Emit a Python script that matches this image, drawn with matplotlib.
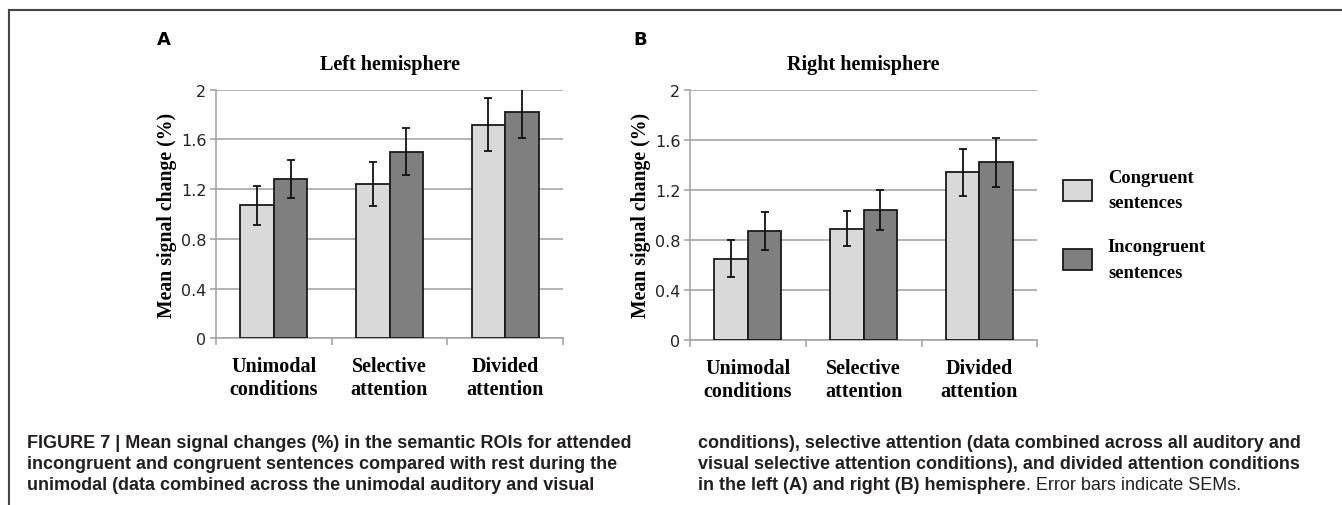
import numpy as np
import matplotlib
matplotlib.use("Agg")
import matplotlib.pyplot as plt
from matplotlib.lines import Line2D

# values
categories = ["Unimodal\nconditions", "Selective\nattention", "Divided\nattention"]
series = ["Congruent\nsentences", "Incongruent\nsentences"]

left_congruent = [1.07, 1.24, 1.72]
left_congruent_err = [0.155, 0.177, 0.216]
left_incongruent = [1.28, 1.50, 1.82]
left_incongruent_err = [0.153, 0.188, 0.209]

right_congruent = [0.65, 0.89, 1.34]
right_congruent_err = [0.150, 0.142, 0.190]
right_incongruent = [0.87, 1.04, 1.42]
right_incongruent_err = [0.152, 0.158, 0.198]

y_ticks = [0, 0.4, 0.8, 1.2, 1.6, 2]
y_tick_labels = ["0", "0.4", "0.8", "1.2", "1.6", "2"]

caption_left = [
    "FIGURE 7 | Mean signal changes (%) in the semantic ROIs for attended",
    "incongruent and congruent sentences compared with rest during the",
    "unimodal (data combined across the unimodal auditory and visual",
]
caption_right = [
    "conditions), selective attention (data combined across all auditory and",
    "visual selective attention conditions), and divided attention conditions",
]
caption_right_bold_end = "in the left (A) and right (B) hemisphere"
caption_right_plain_end = ". Error bars indicate SEMs."

W, H = 1342, 506
fig = plt.figure(figsize=(W / 100, H / 100), dpi=100)

light = "#d9d9d9"
dark = "#7f7f7f"
grid_c = "#a6a6a6"
serif = ["Liberation Serif", "DejaVu Serif"]
caption_font = ["Liberation Sans", "DejaVu Sans"]
cap_size = 13
cap_color = "#231f20"


def draw_panel(rect, cong, cong_err, incong, incong_err, title, letter, letter_x):
    ax = fig.add_axes(rect)
    x = np.arange(len(categories))
    w = 0.29
    b1 = ax.bar(x - w / 2, cong, w, color=light, edgecolor="#1a1a1a", linewidth=1.3, zorder=3)
    b2 = ax.bar(x + w / 2, incong, w, color=dark, edgecolor="#1a1a1a", linewidth=1.3, zorder=3)
    ax.errorbar(x - w / 2, cong, yerr=cong_err, fmt="none", ecolor="#111111",
                elinewidth=1.3, capsize=2.8, capthick=1.3, zorder=4)
    ax.errorbar(x + w / 2, incong, yerr=incong_err, fmt="none", ecolor="#111111",
                elinewidth=1.3, capsize=2.8, capthick=1.3, zorder=4)
    ax.set_xlim(-0.5, len(categories) - 0.5)
    ax.set_ylim(0, 2)
    ax.set_yticks(y_ticks)
    ax.set_yticklabels(y_tick_labels, fontsize=11.5, color="#222222", family="DejaVu Sans")
    ax.yaxis.grid(True, color=grid_c, linewidth=1.2, zorder=0)
    ax.set_axisbelow(True)
    for s in ["top", "right"]:
        ax.spines[s].set_visible(False)
    for s in ["left", "bottom"]:
        ax.spines[s].set_color(grid_c)
        ax.spines[s].set_linewidth(1.2)
    ax.tick_params(axis="y", length=4, width=1.2, color=grid_c, pad=3)
    # category labels as minor ticks, boundaries as major ticks
    ax.set_xticks(np.arange(len(categories) + 1) - 0.5)
    ax.set_xticklabels([])
    ax.set_xticks(x, minor=True)
    ax.set_xticklabels(categories, minor=True, fontsize=14.5, fontweight="bold",
                       family=serif, linespacing=1.2)
    ax.tick_params(axis="x", which="major", length=5, width=1.2, color=grid_c, direction="out")
    ax.tick_params(axis="x", which="minor", length=0, pad=13)
    ax.set_ylabel("Mean signal change (%)", fontsize=14.2, fontweight="bold", family=serif, labelpad=3)
    ax.set_title(title, fontsize=14.5, fontweight="bold", family=serif, pad=15)
    fig.text(letter_x / W, 1 - 40 / H, letter, fontsize=13, fontweight="bold",
             family="DejaVu Sans", ha="center", va="center")
    return b1, b2


draw_panel([216 / W, 1 - 339.3 / H, 347 / W, 248.6 / H],
           left_congruent, left_congruent_err, left_incongruent, left_incongruent_err,
           "Left hemisphere", "A", 164)
b1, b2 = draw_panel([690 / W, 1 - 340.7 / H, 347.3 / W, 249.7 / H],
                    right_congruent, right_congruent_err, right_incongruent, right_incongruent_err,
                    "Right hemisphere", "B", 640)

leg = fig.legend([b1, b2], series, loc="upper left", bbox_to_anchor=(1063 / W, 1 - 170 / H),
                 frameon=False, prop={"family": serif, "weight": "bold", "size": 13.3},
                 handlelength=1.57, handleheight=1.4, handletextpad=0.86, labelspacing=1.45,
                 borderpad=0, borderaxespad=0)
for t in leg.get_texts():
    t.set_linespacing(1.65)

# frame lines
fig.add_artist(Line2D([9 / W, 1], [1 - 11 / H, 1 - 11 / H], color="#444444", linewidth=1.5))
fig.add_artist(Line2D([9 / W, 9 / W], [0, 1 - 11 / H], color="#444444", linewidth=1.5))

# caption
cap_y = [443, 464.5, 486]
for line, y in zip(caption_left, cap_y):
    fig.text(27 / W, 1 - y / H, line, fontsize=cap_size, fontweight="bold", family=caption_font,
             va="center", ha="left", color=cap_color)
for line, y in zip(caption_right, cap_y):
    fig.text(698 / W, 1 - y / H, line, fontsize=cap_size, fontweight="bold", family=caption_font,
             va="center", ha="left", color=cap_color)
last = fig.text(698 / W, 1 - cap_y[2] / H, caption_right_bold_end, fontsize=cap_size,
                fontweight="bold", family=caption_font, va="center", ha="left", color=cap_color)
plt.annotate(caption_right_plain_end, xy=(1, 0), xycoords=last, va="bottom", ha="left",
             fontsize=cap_size, family=caption_font, color=cap_color, annotation_clip=False)

fig.savefig("out.png", dpi=100)
